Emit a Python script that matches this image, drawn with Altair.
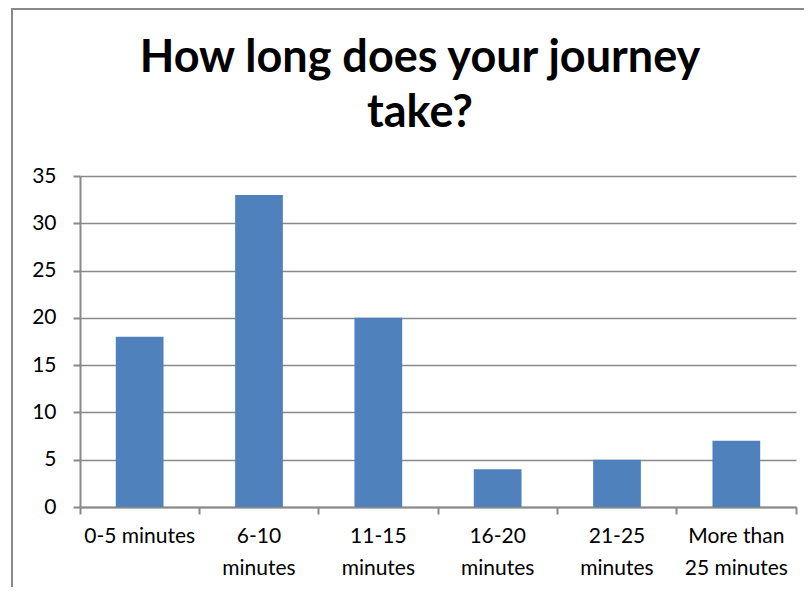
import altair as alt
import pandas as pd

categories = ["0-5 minutes", "6-10 minutes", "11-15 minutes", "16-20 minutes",
              "21-25 minutes", "More than 25 minutes"]
values = [18, 33, 20, 4, 5, 7]
y_ticks = [0, 5, 10, 15, 20, 25, 30, 35]
title_text = "How long does your journey\ntake?"

df = pd.DataFrame({"cat": categories, "val": values})
title_df = pd.DataFrame({"t": [title_text]})

W, H = 716, 331
FONT = "Lato"
GRAY = "#898989"

label_expr = ("datum.label == '0-5 minutes' ? datum.label : "
              "(indexof(datum.label, 'More') == 0 ? ['More than', '25 minutes'] : split(datum.label, ' '))")

bars = alt.Chart(df).mark_bar(color="#4F81BD", width=alt.RelativeBandSize(0.4)).encode(
    x=alt.X("cat:N", sort=categories,
            scale=alt.Scale(paddingInner=0, paddingOuter=0),
            axis=alt.Axis(title=None, labelAngle=0, labelExpr=label_expr,
                          bandPosition=1, tickExtra=True,
                          labelFont=FONT, labelFontSize=21, labelColor="#000000",
                          labelLineHeight=32, labelPadding=11,
                          domainColor=GRAY, domainWidth=2, tickColor=GRAY,
                          tickWidth=2, tickSize=7, grid=False)),
    y=alt.Y("val:Q", scale=alt.Scale(domain=[0, 35], nice=False),
            axis=alt.Axis(title=None, values=y_ticks, labelFont=FONT,
                          labelFontSize=21, labelColor="#000000", labelPadding=17,
                          domainColor=GRAY, domainWidth=2, tickColor=GRAY,
                          tickWidth=2, tickSize=7, gridColor=GRAY, gridWidth=1.5)),
)

frame_left = alt.Chart(df).mark_rule(color=GRAY, strokeWidth=2).encode(
    x=alt.value(-68), y=alt.value(-168), y2=alt.value(H + 80))
frame_top = alt.Chart(df).mark_rule(color=GRAY, strokeWidth=2).encode(
    x=alt.value(-68), x2=alt.value(W + 8), y=alt.value(-167))

title = alt.Chart(title_df).mark_text(
    font=FONT, fontSize=45, fontWeight="bold", color="#000000",
    align="center", baseline="alphabetic", lineBreak="\n", lineHeight=55,
).encode(text="t:N", x=alt.value(340), y=alt.value(-104))

chart = alt.layer(frame_left, frame_top, bars, title).properties(
    width=W, height=H,
    autosize=alt.AutoSizeParams(type="none"),
    padding={"left": 72, "top": 168, "right": 8, "bottom": 80},
).configure_view(stroke=None)

chart.save("out.html", embed_options={"renderer": "svg", "actions": False})
